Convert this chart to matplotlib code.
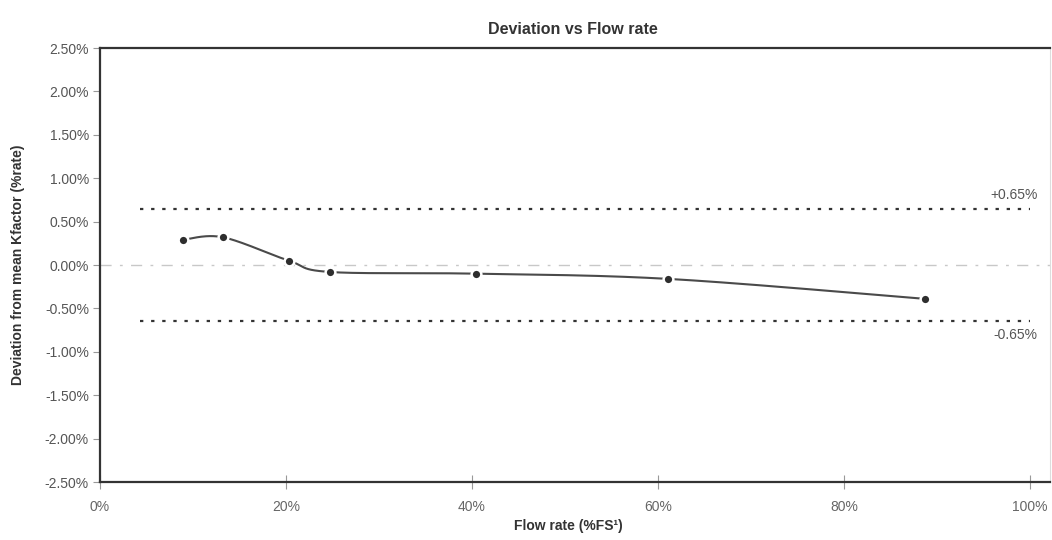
import numpy as np
import matplotlib
matplotlib.use("Agg")
import matplotlib.pyplot as plt
from matplotlib.ticker import FuncFormatter, MultipleLocator

plt.rcParams['font.family'] = ['Liberation Sans', 'DejaVu Sans']

# Measured deviation of the K-factor at each flow rate (fractions of full scale / rate)
flow_rate = [0.089, 0.132, 0.203, 0.247, 0.404, 0.611, 0.887]
deviation = [0.0029, 0.0032, 0.0005, -0.0008, -0.0010, -0.0016, -0.0039]
limit = 0.0065
limit_labels = ["+0.65%", "-0.65%"]

title = "Deviation vs Flow rate"
xlabel = "Flow rate (%FS\u00b9)"
ylabel = "Deviation from mean Kfactor (%rate)"


def smooth_curve(xs, ys, n=40):
    """Piecewise cubic Bezier through the points (spreadsheet-style smoothing)."""
    pts = np.column_stack([xs, ys])
    out = []
    m = len(pts)
    for i in range(m - 1):
        p0 = pts[max(i - 1, 0)]
        p1 = pts[i]
        p2 = pts[i + 1]
        p3 = pts[min(i + 2, m - 1)]
        c1 = p1 + (p2 - p0) / 6.0
        c2 = p2 - (p3 - p1) / 6.0
        t = np.linspace(0, 1, n)[:, None]
        seg = ((1 - t) ** 3) * p1 + 3 * ((1 - t) ** 2) * t * c1 + 3 * (1 - t) * t ** 2 * c2 + t ** 3 * p2
        out.append(seg if i == 0 else seg[1:])
    seg = np.vstack(out)
    return seg[:, 0], seg[:, 1]


def pct2(v, pos):
    s = f"{v * 100:.2f}%"
    return "0.00%" if s == "-0.00%" else s


fig = plt.figure(figsize=(10.52, 5.40), dpi=100)
ax = fig.add_axes([100 / 1052, 1 - 482 / 540, 950 / 1052, 434 / 540])

ax.set_xlim(0, 950 / 930)
ax.set_ylim(-0.025, 0.025)

# zero reference line
ax.axhline(0, color="#c8c8c8", lw=1.0, ls=(0, (8, 6, 2, 6)), zorder=1)

# tolerance band
ax.plot([0.043, 1.0], [limit, limit], color="#333333", lw=1.6, ls=(0, (1.5, 3.5)), zorder=2)
ax.plot([0.043, 1.0], [-limit, -limit], color="#333333", lw=1.6, ls=(0, (1.5, 3.5)), zorder=2)
ax.text(1.008, limit + 0.0008, limit_labels[0], ha="right", va="bottom", fontsize=10, color="#555555")
ax.text(1.008, -limit - 0.0008, limit_labels[1], ha="right", va="top", fontsize=10, color="#555555")

sx, sy = smooth_curve(flow_rate, deviation)
ax.plot(sx, sy, color="#4a4a4a", lw=1.5, zorder=3)
ax.plot(flow_rate, deviation, ls="none", marker="o", ms=7, mfc="#2e2e2e",
        mec="white", mew=1.8, zorder=4)

ax.xaxis.set_major_locator(MultipleLocator(0.2))
ax.yaxis.set_major_locator(MultipleLocator(0.005))
ax.xaxis.set_major_formatter(FuncFormatter(lambda v, p: f"{v * 100:.0f}%"))
ax.yaxis.set_major_formatter(FuncFormatter(pct2))

ax.tick_params(axis="y", direction="out", length=5, width=0.8, color="#999999",
               labelsize=10, labelcolor="#555555", pad=3)
ax.tick_params(axis="x", direction="inout", length=10, width=0.8, color="#999999",
               labelsize=10, labelcolor="#666666", pad=8)

for side in ["left", "bottom", "top"]:
    ax.spines[side].set_color("#333333")
    ax.spines[side].set_linewidth(1.6)
ax.spines["right"].set_color("#dddddd")
ax.spines["right"].set_linewidth(0.8)

fig.text(573 / 1052, 1 - 30 / 540, title, ha="center", va="center",
         fontsize=11.5, fontweight="bold", color="#333333")
fig.text(568 / 1052, 1 - 526 / 540, xlabel, ha="center", va="center",
         fontsize=10, fontweight="bold", color="#333333")
fig.text(18 / 1052, 1 - 265 / 540, ylabel, ha="center", va="center", rotation=90,
         fontsize=10, fontweight="bold", color="#333333")

fig.savefig("out.png", dpi=100, facecolor="white")
